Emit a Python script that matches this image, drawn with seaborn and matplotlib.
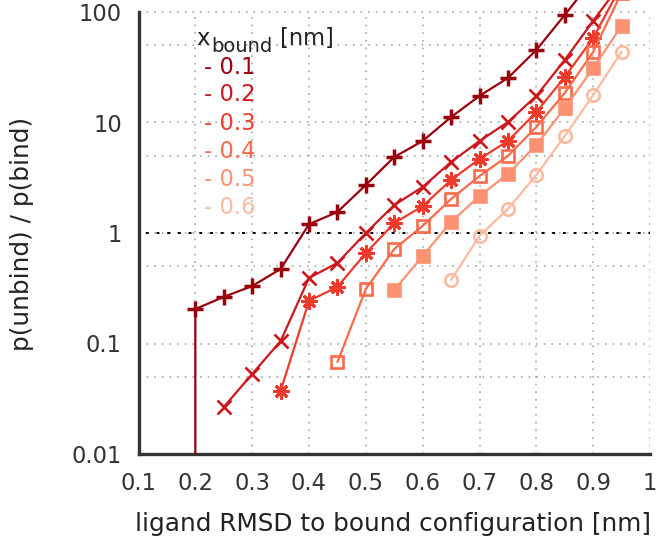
import matplotlib
matplotlib.use("Agg")
import matplotlib.pyplot as plt
import seaborn as sns
import numpy as np
import pandas as pd
from matplotlib.ticker import FixedLocator, NullFormatter, FixedFormatter

sns.set_theme(style="white")
plt.rcParams['font.family'] = ['DejaVu Sans']

# ---------------- data ----------------
x_bound_labels = ["0.1", "0.2", "0.3", "0.4", "0.5", "0.6"]
colors = ["#99000d", "#cb181d", "#ef3b2c", "#fb6a4a", "#fc9272", "#fcbba1"]

# first value of series 0.1 lies below the plotted range (vertical drop at 0.2)
rmsd_01 = [0.2, 0.2, 0.25, 0.3, 0.35, 0.4, 0.45, 0.5, 0.55, 0.6, 0.65, 0.7, 0.75, 0.8, 0.85, 0.9]
ratio_01 = [1e-4, 0.205, 0.264, 0.331, 0.472, 1.2, 1.55, 2.72, 4.87, 6.8, 11.2, 17.4, 25.3, 45.3, 94, 200]

rmsd_02 = [0.25, 0.3, 0.35, 0.4, 0.45, 0.5, 0.55, 0.6, 0.65, 0.7, 0.75, 0.8, 0.85, 0.9, 0.95]
ratio_02 = [0.0266, 0.053, 0.105, 0.392, 0.536, 1.0, 1.79, 2.61, 4.39, 6.8, 10.1, 17.4, 36.8, 83, 185]

rmsd_03 = [0.35, 0.4, 0.45, 0.5, 0.55, 0.6, 0.65, 0.7, 0.75, 0.8, 0.85, 0.9, 0.95]
ratio_03 = [0.0372, 0.243, 0.325, 0.659, 1.23, 1.75, 3.02, 4.68, 6.8, 12.4, 25.8, 58.2, 175]

rmsd_04 = [0.45, 0.5, 0.55, 0.6, 0.65, 0.7, 0.75, 0.8, 0.85, 0.9, 0.95]
ratio_04 = [0.068, 0.311, 0.716, 1.16, 2.03, 3.28, 4.98, 9.1, 18.5, 43.5, 150]

rmsd_05 = [0.55, 0.6, 0.65, 0.7, 0.75, 0.8, 0.85, 0.9, 0.95]
ratio_05 = [0.305, 0.619, 1.26, 2.16, 3.42, 6.25, 13.5, 31.1, 74.6]

rmsd_06 = [0.65, 0.7, 0.75, 0.8, 0.85, 0.9, 0.95]
ratio_06 = [0.376, 0.94, 1.65, 3.35, 7.55, 17.7, 43.5]

x_ticks = [0.1, 0.2, 0.3, 0.4, 0.5, 0.6, 0.7, 0.8, 0.9, 1.0]
x_tick_labels = ["0.1", "0.2", "0.3", "0.4", "0.5", "0.6", "0.7", "0.8", "0.9", "1"]
y_ticks = [0.01, 0.1, 1, 10, 100]
y_tick_labels = ["0.01", "0.1", "1", "10", "100"]
y_minor = [0.05, 0.5, 5, 50]

series_x = [rmsd_01, rmsd_02, rmsd_03, rmsd_04, rmsd_05, rmsd_06]
series_y = [ratio_01, ratio_02, ratio_03, ratio_04, ratio_05, ratio_06]

# ---------------- styling ----------------
W, H = 661, 544
fig = plt.figure(figsize=(W / 100, H / 100), dpi=100)
left_px, right_px, bottom_px = 138.5, 650.0, 454.0
ax = fig.add_axes([left_px / W, 1 - bottom_px / H, (right_px - left_px) / W, bottom_px / H])
ax.set_yscale('log')
ymax = 10 ** (2 + 12.0 / 110.5)
ax.set_xlim(0.1, 1.0)
ax.set_ylim(0.01, ymax)

markers = ['+', 'x', (8, 2, 0), 's', 's', 'o']
faces = [None, None, None, 'none', 'fill', 'none']
msizes = [12, 10.5, 11.5, 8.5, 8.5, 9]
mews = [2.5, 1.9, 2.1, 1.9, 1.9, 1.9]

fs_tick = 16.3
fs_lab = 17.8
txtc = '#222222'

for i in range(6):
    df = pd.DataFrame({"rmsd": series_x[i], "ratio": series_y[i]})
    sns.lineplot(data=df, x="rmsd", y="ratio", ax=ax, estimator=None, sort=False,
                 color=colors[i], linewidth=1.6, legend=False)
    line = ax.lines[-1]
    line.set_marker(markers[i])
    line.set_markersize(msizes[i])
    line.set_markeredgewidth(mews[i])
    line.set_markeredgecolor(colors[i])
    if faces[i] == 'none':
        line.set_markerfacecolor('none')
    else:
        line.set_markerfacecolor(colors[i])
    line.set_zorder(3 + i * 0.01)

# grid
grid_x = [0.2, 0.3, 0.4, 0.5, 0.6, 0.7, 0.8, 0.9, 1.0]
grid_y = [0.05, 0.1, 0.5, 1, 5, 10, 50, 100]
ax.vlines(grid_x, 0.01, 100, colors='#9a9a9a', linestyles=(0, (1, 4)), linewidth=1.1, zorder=1)
ax.hlines(grid_y, 0.1, 1.0, colors='#9a9a9a', linestyles=(0, (1, 4)), linewidth=1.1, zorder=1)
ax.hlines([1], 0.1, 1.0, colors='black', linestyles=(2, (1.5, 4)), linewidth=1.4, zorder=1.5)

# spines
for s in ['top', 'right']:
    ax.spines[s].set_visible(False)
for s in ['left', 'bottom']:
    ax.spines[s].set_linewidth(2.4)
    ax.spines[s].set_color('#333333')
ax.spines['left'].set_bounds(0.01, 100)
ax.spines['bottom'].set_bounds(0.1, 1.0)

ax.xaxis.set_major_locator(FixedLocator(x_ticks))
ax.xaxis.set_major_formatter(FixedFormatter(x_tick_labels))
ax.yaxis.set_major_locator(FixedLocator(y_ticks))
ax.yaxis.set_major_formatter(FixedFormatter(y_tick_labels))
ax.yaxis.set_minor_locator(FixedLocator(y_minor))
ax.yaxis.set_minor_formatter(NullFormatter())
ax.xaxis.set_minor_locator(FixedLocator([]))

ax.tick_params(axis='both', which='major', direction='in', width=2.2, color='#333333',
               labelsize=fs_tick, labelcolor='#333333', pad=12)
ax.tick_params(axis='x', which='major', length=5, pad=13)
ax.tick_params(axis='y', which='major', length=7)
ax.tick_params(axis='y', which='minor', direction='in', length=5, width=2.2, color='#333333')

ax.set_xlabel("ligand RMSD to bound configuration [nm]", fontsize=fs_lab, color=txtc)
ax.set_ylabel("p(unbind) / p(bind)", fontsize=fs_lab, color=txtc)
ax.xaxis.label.set_verticalalignment('center')
ax.xaxis.set_label_coords(0.5 * (left_px + right_px) / W - 1.5 / W, (H - 524) / H,
                          transform=fig.transFigure)
ax.yaxis.label.set_verticalalignment('center')
ax.yaxis.set_label_coords(22 / W, 1 - 234 / H, transform=fig.transFigure)

# key: title "x_bound [nm]" and coloured entries
fig.text(196 / W, 1 - 45 / H, "x", fontsize=fs_tick, color=txtc, ha='left', va='baseline')
fig.text(211 / W, 1 - 52 / H, "bound", fontsize=14, color=txtc, ha='left', va='baseline')
fig.text(280 / W, 1 - 45 / H, "[nm]", fontsize=fs_tick, color=txtc, ha='left', va='baseline')
key_y = [67, 95, 123, 151, 179, 207]
for lab, c, yy in zip(x_bound_labels, colors, key_y):
    fig.text(204 / W, 1 - yy / H, "- " + lab, fontsize=fs_tick, color=c, ha='left', va='center')

fig.savefig("out.png", dpi=100)
